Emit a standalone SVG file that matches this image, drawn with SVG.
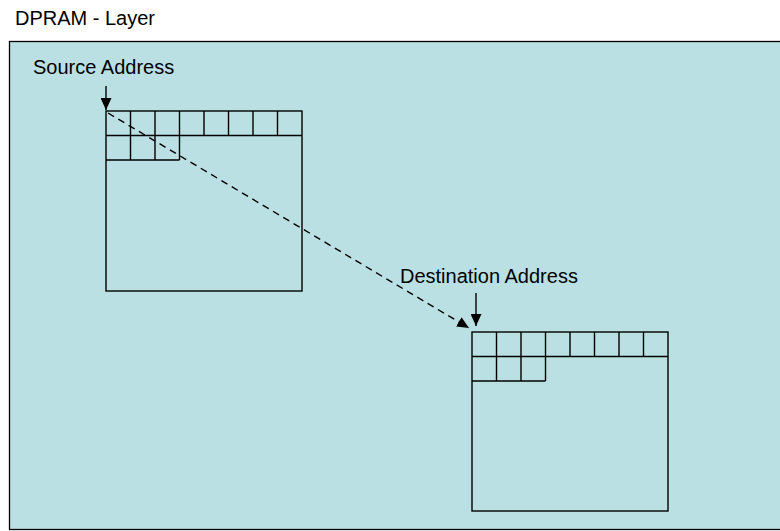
<svg xmlns="http://www.w3.org/2000/svg" width="780" height="531" viewBox="0 0 780 531">
<style>
text{font-family:"Liberation Sans",Arial,sans-serif;fill:#000;font-size:20px}
.g{fill:none;stroke:#000;stroke-width:1.4}
.a{stroke:#000;stroke-width:1.4;fill:none}
</style>
<defs>
<marker id="ah" viewBox="0 0 12 11" refX="12" refY="5.5" markerWidth="12" markerHeight="11" markerUnits="userSpaceOnUse" orient="auto">
<path d="M0,0L12,5.5L0,11z" fill="#000"/>
</marker>
</defs>
<rect width="780" height="531" fill="#fff"/>
<text x="15" y="25">DPRAM - Layer</text>
<g id="layer">
<rect x="9.5" y="41.5" width="775" height="488" fill="#bbe0e3" stroke="#000" stroke-width="1.3"/>
</g>
<g id="source">
<rect class="g" x="106" y="111" width="196" height="180"/>
<path class="g" d="M106,135.5H302M106,160H179.5M130.5,111V160M155,111V160M179.5,111V160M204,111V135.5M228.5,111V135.5M253,111V135.5M277.5,111V135.5"/>
<text x="33" y="74">Source Address</text>
</g>
<g id="destination">
<rect class="g" x="472" y="332" width="196" height="179"/>
<path class="g" d="M472,356.5H668M472,381H545.5M496.5,332V381M521,332V381M545.5,332V381M570,332V356.5M594.5,332V356.5M619,332V356.5M643.5,332V356.5"/>
<text x="400" y="283">Destination Address</text>
</g>
<g id="connectors">
<line class="a" x1="106" y1="86" x2="106" y2="110" marker-end="url(#ah)"/>
<line class="a" x1="476" y1="293" x2="476" y2="326" marker-end="url(#ah)"/>
<line class="a" x1="108" y1="113" x2="469" y2="328" stroke-dasharray="7,5" marker-end="url(#ah)"/>
</g>
</svg>
